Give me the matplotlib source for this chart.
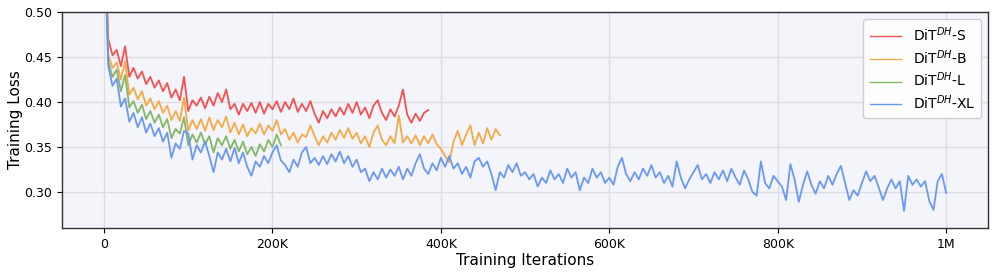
import numpy as np
import matplotlib
matplotlib.use("Agg")
import matplotlib.pyplot as plt
import matplotlib.ticker as mticker

# ── Data (loss, one value every 5K iterations) ──────────────────────────────
step = 5000

loss_s = [
    0.620, 0.470, 0.452, 0.458, 0.440, 0.462, 0.428, 0.438, 0.426, 0.434,
    0.420, 0.428, 0.416, 0.424, 0.412, 0.421, 0.405, 0.414, 0.402, 0.428,
    0.390, 0.402, 0.396, 0.405, 0.393, 0.406, 0.396, 0.410, 0.400, 0.414,
    0.392, 0.398, 0.386, 0.398, 0.390, 0.399, 0.388, 0.400, 0.387, 0.398,
    0.392, 0.401, 0.389, 0.400, 0.392, 0.404, 0.389, 0.398, 0.390, 0.401,
    0.387, 0.377, 0.390, 0.382, 0.392, 0.384, 0.394, 0.386, 0.398, 0.388,
    0.400, 0.386, 0.394, 0.382, 0.396, 0.402, 0.388, 0.380, 0.392, 0.384,
    0.396, 0.414, 0.386, 0.377, 0.387, 0.379, 0.388, 0.391,
]

loss_b = [
    0.610, 0.452, 0.438, 0.444, 0.425, 0.445, 0.408, 0.416, 0.403, 0.412,
    0.396, 0.404, 0.392, 0.401, 0.388, 0.396, 0.380, 0.390, 0.379, 0.405,
    0.368, 0.380, 0.370, 0.381, 0.368, 0.383, 0.369, 0.380, 0.372, 0.384,
    0.366, 0.377, 0.364, 0.375, 0.362, 0.371, 0.365, 0.376, 0.364, 0.374,
    0.368, 0.380, 0.364, 0.370, 0.358, 0.366, 0.355, 0.364, 0.361, 0.374,
    0.362, 0.352, 0.362, 0.355, 0.366, 0.358, 0.369, 0.360, 0.371, 0.359,
    0.366, 0.354, 0.362, 0.350, 0.366, 0.374, 0.358, 0.352, 0.362, 0.354,
    0.385, 0.355, 0.362, 0.354, 0.363, 0.352, 0.362, 0.354, 0.364, 0.353,
    0.348, 0.340, 0.333, 0.356, 0.368, 0.352, 0.364, 0.374, 0.352, 0.366,
    0.354, 0.371, 0.358, 0.370, 0.363,
]

loss_l = [
    0.600, 0.445, 0.428, 0.436, 0.412, 0.430, 0.394, 0.401, 0.388, 0.397,
    0.381, 0.390, 0.377, 0.386, 0.372, 0.381, 0.360, 0.370, 0.365, 0.383,
    0.352, 0.364, 0.355, 0.366, 0.353, 0.362, 0.344, 0.360, 0.352, 0.362,
    0.348, 0.358, 0.345, 0.356, 0.342, 0.350, 0.340, 0.353, 0.345, 0.358,
    0.350, 0.364, 0.352,
]

loss_xl = [
    0.600, 0.440, 0.418, 0.426, 0.395, 0.404, 0.378, 0.388, 0.372, 0.383,
    0.366, 0.376, 0.362, 0.371, 0.356, 0.366, 0.338, 0.354, 0.348, 0.368,
    0.365, 0.336, 0.352, 0.344, 0.356, 0.340, 0.322, 0.344, 0.336, 0.348,
    0.334, 0.349, 0.332, 0.344, 0.328, 0.318, 0.334, 0.328, 0.340, 0.332,
    0.344, 0.352, 0.335, 0.330, 0.322, 0.336, 0.328, 0.344, 0.350, 0.332,
    0.338, 0.330, 0.340, 0.331, 0.342, 0.334, 0.345, 0.332, 0.340, 0.328,
    0.336, 0.322, 0.326, 0.312, 0.322, 0.314, 0.326, 0.316, 0.325, 0.318,
    0.328, 0.314, 0.326, 0.318, 0.332, 0.342, 0.326, 0.320, 0.332, 0.324,
    0.338, 0.328, 0.340, 0.326, 0.332, 0.320, 0.328, 0.316, 0.334, 0.338,
    0.328, 0.334, 0.320, 0.302, 0.322, 0.316, 0.330, 0.322, 0.332, 0.318,
    0.322, 0.314, 0.320, 0.306, 0.316, 0.310, 0.324, 0.314, 0.320, 0.310,
    0.326, 0.316, 0.322, 0.302, 0.316, 0.310, 0.326, 0.316, 0.322, 0.310,
    0.316, 0.308, 0.328, 0.338, 0.320, 0.312, 0.322, 0.314, 0.326, 0.318,
    0.330, 0.316, 0.322, 0.310, 0.318, 0.306, 0.334, 0.316, 0.304, 0.314,
    0.322, 0.330, 0.314, 0.320, 0.310, 0.322, 0.314, 0.324, 0.312, 0.326,
    0.316, 0.308, 0.324, 0.314, 0.300, 0.296, 0.334, 0.310, 0.304, 0.318,
    0.312, 0.306, 0.291, 0.331, 0.314, 0.289, 0.308, 0.323, 0.308, 0.298,
    0.312, 0.304, 0.318, 0.308, 0.320, 0.329, 0.310, 0.291, 0.302, 0.296,
    0.310, 0.323, 0.312, 0.318, 0.305, 0.291, 0.304, 0.314, 0.304, 0.312,
    0.279, 0.318, 0.308, 0.314, 0.306, 0.312, 0.290, 0.280, 0.312, 0.320,
    0.299,
]

labels = [r"DiT$^{DH}$-S", r"DiT$^{DH}$-B", r"DiT$^{DH}$-L", r"DiT$^{DH}$-XL"]
colors = ["#f44848", "#f5a63f", "#7db35e", "#6393f5"]
x_ticks = [0, 200000, 400000, 600000, 800000, 1000000]
y_ticks = [0.30, 0.35, 0.40, 0.45, 0.50]


def fmt_iter(v, _pos):
    if v == 0:
        return "0"
    if v >= 1000000:
        return f"{v / 1000000:g}M"
    return f"{v / 1000:g}K"


fig = plt.figure(figsize=(9.96, 2.75), dpi=100)
ax = fig.add_axes([0.0622, 0.171, 0.930, 0.785])
ax.set_facecolor("#f4f5fa")

for series, label, color in zip([loss_s, loss_b, loss_l, loss_xl], labels, colors):
    iters = np.arange(len(series)) * step
    ax.plot(iters, series, color=color, lw=1.3, alpha=0.95, label=label)

ax.set_xlim(-50000, 1050000)
ax.set_ylim(0.26, 0.50)
ax.set_xticks(x_ticks)
ax.set_yticks(y_ticks)
ax.xaxis.set_major_formatter(mticker.FuncFormatter(fmt_iter))
ax.yaxis.set_major_formatter(mticker.FormatStrFormatter("%.2f"))
ax.tick_params(labelsize=9)
ax.grid(True, color="#dcdde3", lw=1.0)
ax.set_axisbelow(True)
for sp in ax.spines.values():
    sp.set_color("#333333")
    sp.set_linewidth(1.0)

ax.set_xlabel("Training Iterations", fontsize=11, labelpad=2)
ax.set_ylabel("Training Loss", fontsize=11, labelpad=1)
leg = ax.legend(loc="upper right", fontsize=10, framealpha=0.9,
                labelspacing=0.3, borderpad=0.45, handlelength=2.3)
for line in leg.get_lines():
    line.set_linewidth(1.0)

fig.savefig("out.png", dpi=100)
